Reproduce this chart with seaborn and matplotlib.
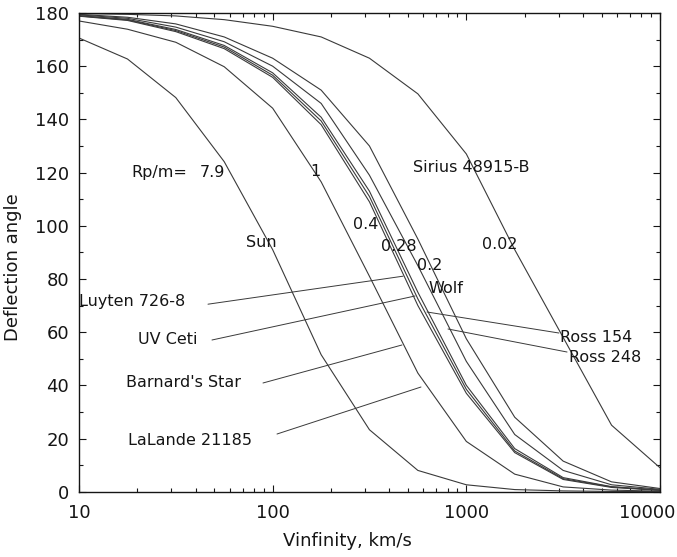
import matplotlib
matplotlib.use("Agg")
import matplotlib.pyplot as plt
from matplotlib.ticker import FixedLocator, FixedFormatter, MultipleLocator, LogLocator, NullFormatter
import pandas as pd
import seaborn as sns

# Hyperbolic flyby: deflection angle (deg) versus approach speed V-infinity (km/s)
v_inf = [10, 17.8, 31.6, 56.2, 100, 178, 316, 562, 1000, 1778, 3162, 5623, 10000]

defl_sun = [170.6, 162.7, 148.2, 124.1, 91.0, 51.5, 23.3, 8.0, 2.6, 0.8, 0.3, 0.1, 0.03]
defl_rp1 = [177.0, 173.9, 169.0, 159.8, 144.2, 116.5, 81.0, 44.6, 18.9, 6.6, 1.8, 0.6, 0.2]
defl_rp04a = [178.8, 177.2, 173.0, 166.6, 155.8, 138.0, 109.0, 70.0, 37.0, 14.7, 4.6, 1.6, 0.5]
defl_rp04b = [178.9, 177.4, 173.4, 167.2, 156.6, 139.4, 111.0, 72.5, 38.5, 15.3, 4.9, 1.8, 0.6]
defl_rp04c = [179.0, 177.6, 173.8, 167.8, 157.5, 140.8, 113.0, 75.0, 40.0, 16.2, 5.3, 1.9, 0.6]
defl_rp028 = [179.3, 178.0, 174.7, 169.2, 160.0, 146.0, 119.0, 85.0, 49.0, 21.5, 8.0, 2.6, 0.9]
defl_rp02 = [179.5, 178.4, 175.9, 171.0, 163.0, 151.0, 130.0, 95.0, 57.5, 28.0, 11.5, 3.7, 1.2]
defl_sirius = [179.8, 179.5, 178.9, 177.5, 175.0, 171.0, 163.0, 149.6, 127.0, 91.0, 58.0, 25.0, 9.0]

x_ticks = [10, 100, 1000, 10000]
x_tick_labels = ["10", "100", "1000", "10000"]
y_ticks = [0, 20, 40, 60, 80, 100, 120, 140, 160, 180]

curves = {
    "Sun": defl_sun,
    "1": defl_rp1,
    "0.4a": defl_rp04a,
    "0.4b": defl_rp04b,
    "0.4c": defl_rp04c,
    "0.28": defl_rp028,
    "0.2": defl_rp02,
    "Sirius B": defl_sirius,
}
df = pd.DataFrame({"v": v_inf, **curves}).melt(id_vars="v", var_name="curve", value_name="deflection")

sns.set_style("ticks")
plt.rcParams["font.family"] = ["DejaVu Sans"]
ink = "#151515"
line_col = "#3a3a3a"

fig = plt.figure(figsize=(6.77, 5.57), dpi=100)
ax = fig.add_axes([79 / 677, 1 - 491.7 / 557, 581 / 677, 478.7 / 557])

sns.lineplot(data=df, x="v", y="deflection", hue="curve",
             palette={k: line_col for k in curves}, legend=False,
             estimator=None, sort=False, lw=0.8, ax=ax)

ax.set_xscale("log")
ax.set_xlim(10, 10000)
ax.set_ylim(0, 180)

# the rightmost tick label is drawn separately so it stays inside the canvas
ax.xaxis.set_major_locator(FixedLocator(x_ticks))
ax.xaxis.set_major_formatter(FixedFormatter(x_tick_labels[:-1] + [""]))
ax.xaxis.set_minor_locator(LogLocator(base=10, subs=range(2, 10)))
ax.xaxis.set_minor_formatter(NullFormatter())
ax.yaxis.set_major_locator(FixedLocator(y_ticks))
ax.yaxis.set_minor_locator(MultipleLocator(10))

ax.tick_params(which="both", direction="in", top=True, right=True, colors=ink, width=0.8)
ax.tick_params(which="major", length=5, labelsize=13)
ax.tick_params(which="minor", length=3)
ax.tick_params(axis="x", which="major", pad=9)
ax.tick_params(axis="y", which="major", pad=7)
for s in ax.spines.values():
    s.set_color(ink)
    s.set_linewidth(1.0)

ax.annotate(x_tick_labels[-1], xy=(1, 0), xycoords="axes fraction",
            xytext=(11, -9), textcoords="offset points",
            ha="right", va="top", fontsize=13, color=ink)

ax.set_xlabel("Vinfinity, km/s", fontsize=13, color=ink)
ax.set_ylabel("Deflection angle", fontsize=13, color=ink)
ax.xaxis.set_label_coords(0.462, -0.084)
ax.yaxis.set_label_coords(-0.098, 0.469)

# curve labels (axes-fraction positions)
labels = [
    ("Rp/m=", 0.0907, 0.6658),
    ("7.9", 0.2083, 0.6658),
    ("1", 0.3976, 0.6679),
    ("Sun", 0.2874, 0.5216),
    ("Sirius 48915-B", 0.5744, 0.6768),
    ("0.4", 0.4711, 0.5592),
    ("0.28", 0.5193, 0.5112),
    ("0.2", 0.5818, 0.4715),
    ("0.02", 0.6931, 0.5154),
    ("Wolf", 0.6007, 0.4255),
    ("Luyten 726-8", 0.0, 0.3963),
    ("UV Ceti", 0.1015, 0.3169),
    ("Barnard's Star", 0.0809, 0.2271),
    ("LaLande 21185", 0.0843, 0.1080),
    ("Ross 154", 0.8279, 0.3211),
    ("Ross 248", 0.8434, 0.2793),
]
for txt, fx, fy in labels:
    ax.text(fx, fy, txt, transform=ax.transAxes, ha="left", va="center",
            fontsize=11.5, color=ink)

# leader lines from star names to their curves
leaders = [
    ((0.2220, 0.3917), (0.5577, 0.4502)),
    ((0.2289, 0.3169), (0.5783, 0.4088)),
    ((0.3167, 0.2271), (0.5559, 0.3065)),
    ((0.3408, 0.1205), (0.5886, 0.2187)),
    ((0.5990, 0.3754), (0.8260, 0.3315)),
    ((0.6351, 0.3399), (0.8400, 0.2918)),
]
for (x0, y0), (x1, y1) in leaders:
    ax.plot([x0, x1], [y0, y1], transform=ax.transAxes, color=line_col, lw=0.7)

fig.savefig("out.png", dpi=100, facecolor="white")
